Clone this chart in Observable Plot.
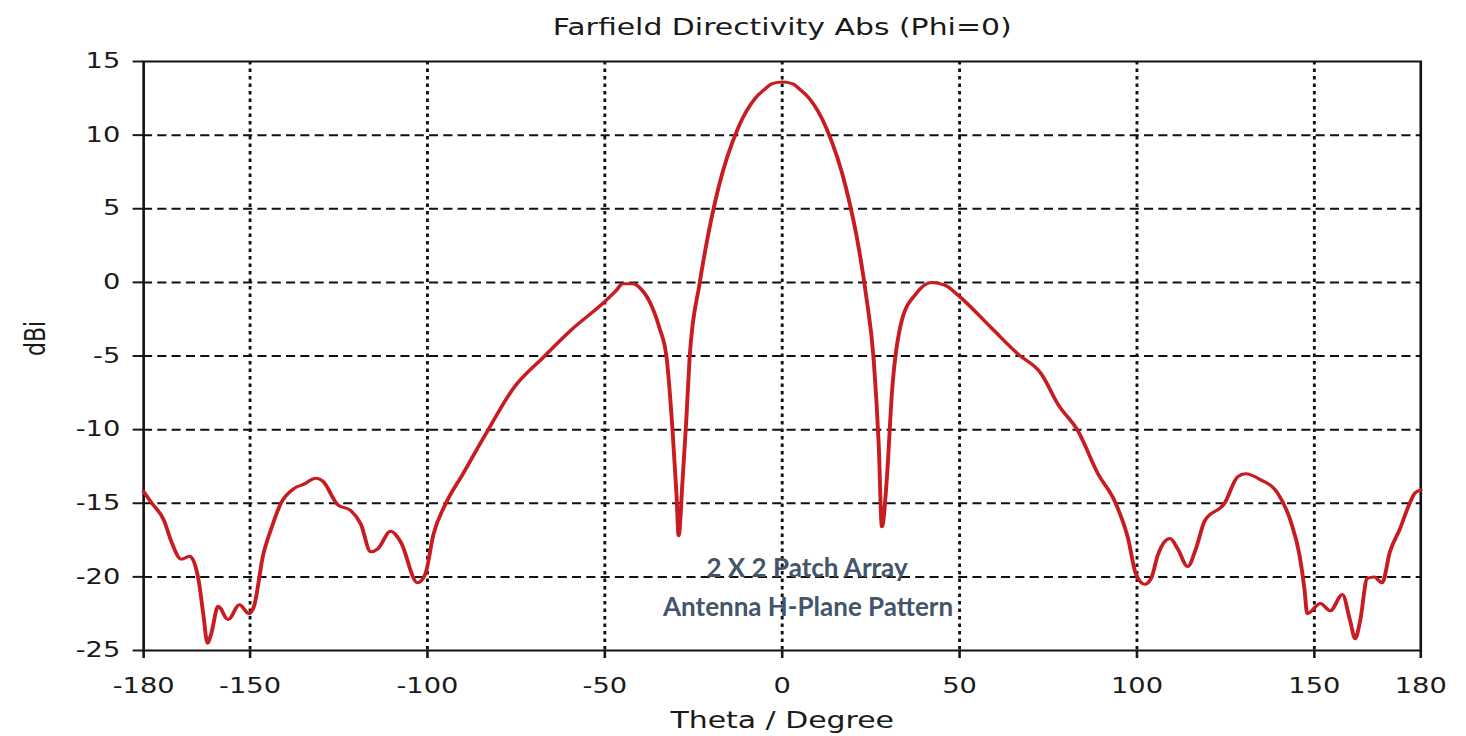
<!DOCTYPE html>
<html>
<head>
<meta charset="utf-8">
<script src="https://cdn.jsdelivr.net/npm/d3@7"></script>
<script src="https://cdn.jsdelivr.net/npm/@observablehq/plot@0.6"></script>
<style>
  html, body { margin: 0; padding: 0; background: #fff; overflow: hidden; }
  #chart svg { display: block; transform: scaleX(1.3); transform-origin: 0 0; }
</style>
</head>
<body>
<div id="chart"></div>
<script>
// ---- data ----
const theta = [
  -180, -178, -174.2, -172.2, -169.4, -167, -164.6, -163.2, -162, -161, -159, -156.2, -153, -150.3, -148.9,
  -146.3, -144, -141.3, -137.6, -134.8, -131.5, -129.5, -125.3, -121.6, -118.8, -116, -114, -110.4, -107.6,
  -102.8, -100.6, -98.3, -95, -90, -83.1, -75.8, -67.4, -59.8, -50, -47, -44.9, -42.1, -40, -37.4, -34.6, -32.6,
  -30.9, -29.8, -29.2, -28.1, -27, -26.1, -23.3, -21.6, -18, -12.4, -7.6, -5, -2.8, 0, 2.8, 5, 7.6, 12.4, 18,
  21.6, 23.6, 25.8, 27.2, 28.1, 29.5, 30.9, 33.7, 37.6, 42.1, 46, 49.7, 59, 66.6, 73, 77.8, 83.4, 89,
  93.8, 97.5, 99.7, 102.2, 104, 105.9, 109.3, 111.5, 114.3, 116.6, 119.1, 124.7, 128.4, 130.6, 134.8,
  139.6, 143.3, 145.8, 147.2, 148, 151.7, 154.5, 157.9, 160.1, 161.5, 162.9, 164.9, 166.9, 169.1, 171.3,
  174.2, 176.7, 178.4, 180
];
const dbi = [
  -14.2, -14.9, -16.2, -17.6, -18.8, -18.6, -20.1, -22.5, -24.5, -23.9, -22, -22.9, -21.9, -22.5, -22,
  -18.5, -16.7, -15, -14, -13.7, -13.3, -13.5, -15.1, -15.5, -16.4, -18.3, -18.1, -16.9, -17.6,
  -20.4, -19.8, -17.1, -15.1, -13, -10.1, -7.2, -5.1, -3.3, -1.3, -0.6, -0.1, -0.1, -0.4, -1.3, -3.1, -5.1,
  -10.1, -14.4, -17.2, -13.5, -9.2, -5.1, -0.1, 2.3, 6.4, 10.5, 12.5, 13.1, 13.5, 13.6, 13.5, 13.1, 12.5, 10.5, 6.4,
  2.3, -0.8, -5.3, -11, -16.6, -13.3, -7.6, -2.6, -0.8, 0, -0.2, -0.9, -3.1, -4.9, -6.2, -8.3, -10.1, -13,
  -14.9, -17.4, -19.8, -20.5, -20.1, -18.5, -17.4, -18.1, -19.3, -18.1, -16.2, -15, -13.2, -13, -13.4,
  -14.3, -16.2, -18.5, -20.8, -22.5, -21.8, -22.3, -21.2, -23, -24.2, -23, -20.1, -20, -20.4, -18.3,
  -16.7, -15.1, -14.3, -14.1
];
const xTicks = [-180, -150, -100, -50, 0, 50, 100, 150, 180];
const yTicks = [-25, -20, -15, -10, -5, 0, 5, 10, 15];
const xGrid = [-150, -100, -50, 0, 50, 100, 150];
const yGrid = [-20, -15, -10, -5, 0, 5, 10];
const titleText = "Farfield Directivity Abs (Phi=0)";
const xLabel = "Theta / Degree";
const yLabel = "dBi";
const noteLines = ["2 X 2 Patch Array", "Antenna H-Plane Pattern"];
const noteTheta = [7, 7.3];
const noteDbi = [-19.45, -22.1];

// ---- build ----
const S = 1.3; // horizontal stretch of the original picture
const data = theta.map((t, i) => ({theta: t, dbi: dbi[i]}));
const notes = noteLines.map((t, i) => ({text: t, theta: noteTheta[i], dbi: noteDbi[i]}));

const chart = Plot.plot({
  width: 1128,
  height: 736,
  marginLeft: 110,
  marginRight: 35.6,
  marginTop: 61,
  marginBottom: 86,
  style: {fontFamily: "DejaVu Sans, Verdana, sans-serif", fontSize: "21px", color: "#1a1a1a", background: "#fff"},
  x: {domain: [-180, 180]},
  y: {domain: [-25, 15]},
  marks: [
    Plot.gridX(xGrid, {stroke: "#111", strokeOpacity: 1, strokeWidth: 2.2, strokeDasharray: "3.5,4"}),
    Plot.gridY(yGrid, {stroke: "#111", strokeOpacity: 1, strokeWidth: 2, strokeDasharray: "7,4"}),
    Plot.axisX({ticks: xTicks, tickFormat: d => String(d), tickSize: 8, tickPadding: 20, strokeWidth: 2, label: null}),
    Plot.axisY({ticks: yTicks, tickFormat: d => String(d), tickSize: 8, tickPadding: 10, strokeWidth: 2, label: null}),
    Plot.frame({stroke: "#111", strokeWidth: 2}),
    Plot.line(data, {x: "theta", y: "dbi", stroke: "#c81c20", strokeWidth: 3, curve: "monotone-x"}),
    Plot.text(notes, {x: "theta", y: "dbi", text: "text", fill: "#44546a", fontWeight: "bold",
      fontFamily: "Lato, 'Open Sans', sans-serif", fontSize: 26}),
    Plot.text([titleText], {frameAnchor: "top", lineAnchor: "middle", dy: -34, fontSize: 23, fill: "#1a1a1a"}),
    Plot.text([xLabel], {frameAnchor: "bottom", lineAnchor: "middle", dy: 70, fontSize: 23, fill: "#1a1a1a"}),
    Plot.text([yLabel], {frameAnchor: "left", lineAnchor: "middle", dx: -83, rotate: -90, fontSize: 22, fill: "#1a1a1a"})
  ]
});
document.getElementById("chart").appendChild(chart);

// keep the overlaid annotation unstretched
d3.select(chart).selectAll("text").filter(function () {
  return noteLines.includes(this.textContent);
}).each(function () {
  const t = this.getAttribute("transform");
  if (t) {
    this.setAttribute("transform", t + ` scale(${1 / S},1)`);
  } else {
    const x = +this.getAttribute("x") || 0;
    this.setAttribute("transform", `translate(${x},0) scale(${1 / S},1) translate(${-x},0)`);
  }
});
</script>
</body>
</html>
